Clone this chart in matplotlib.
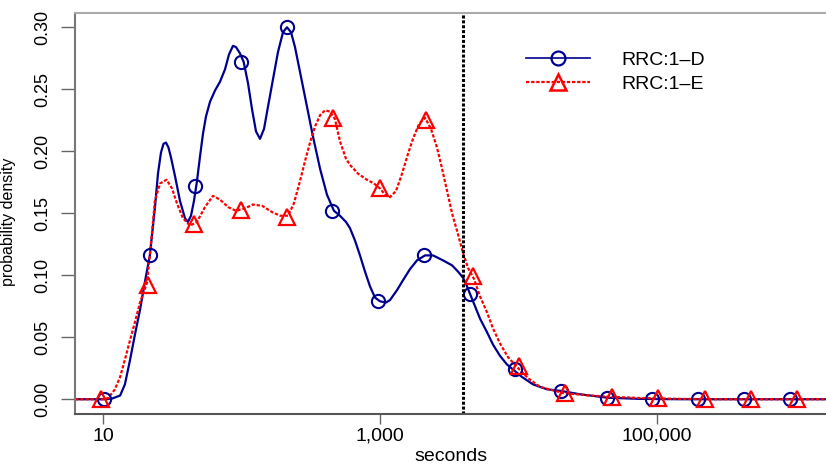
import matplotlib
matplotlib.use("Agg")
import matplotlib.pyplot as plt

plt.rcParams['font.family'] = ['Liberation Sans', 'DejaVu Sans']

# density curves (seconds, density)
blue_x = [6.3, 10, 11.6, 13.3, 14.4, 15.7, 17.0, 18.5, 20.1, 21.8, 23.74, 24.95, 26.23,
          27.35, 28.5, 29.71, 30.97, 33.11, 35.97, 39.09, 41.08, 43.19, 45.4, 47.72,
          50.2, 52.7, 55.4, 59.3, 64.4, 69.9, 76.0, 81.2, 86.8, 91.3, 97.5, 103.7,
          111.4, 119.1, 127.3, 136.0, 145.4, 155.4, 168.8, 183.4, 199.4, 213.0, 227.8,
          243.4, 264.5, 297, 328, 369, 414, 465, 514, 568, 607, 660, 717, 779, 847,
          920, 1000, 1105, 1181, 1327, 1466, 1648, 1850, 2113, 2414, 2851, 3311, 3656,
          3975, 4180, 4466, 4853, 5275, 5929, 6549, 7352, 8260, 9125, 10590, 12730,
          16070, 20280, 27800, 44260, 75300, 146600, 1.7e6]
blue_y = [0.0, 0.0, 0.0005, 0.003, 0.012, 0.032, 0.052, 0.072, 0.095, 0.116, 0.155,
          0.182, 0.199, 0.206, 0.207, 0.203, 0.195, 0.180, 0.160, 0.146, 0.143, 0.148,
          0.160, 0.176, 0.196, 0.214, 0.228, 0.240, 0.249, 0.256, 0.266, 0.278, 0.285,
          0.284, 0.279, 0.272, 0.255, 0.234, 0.216, 0.210, 0.218, 0.236, 0.258, 0.280,
          0.296, 0.300, 0.296, 0.284, 0.264, 0.236, 0.212, 0.186, 0.165, 0.152, 0.148,
          0.143, 0.138, 0.128, 0.116, 0.103, 0.091, 0.082, 0.079, 0.078, 0.080, 0.088,
          0.096, 0.105, 0.112, 0.116, 0.116, 0.112, 0.108, 0.103, 0.098, 0.093, 0.085,
          0.075, 0.065, 0.054, 0.044, 0.035, 0.028, 0.024, 0.018, 0.012, 0.008, 0.0067,
          0.004, 0.0012, 0.0003, 0.0, 0.0]

red_x = [6.3, 10, 10.9, 12.2, 13.3, 14.4, 15.7, 17.0, 18.5, 20.8, 22.4, 23.7, 25.8,
         28.8, 31.5, 34.2, 37.8, 42.5, 47.7, 54.5, 62.2, 70.0, 80.0, 91.2, 106, 121,
         141, 166, 190, 217, 239, 264.5, 287.4, 312.4, 339.5, 368.8, 400.7, 435.5,
         473, 514, 568, 607, 693, 805, 905, 1000, 1087, 1181, 1306, 1443, 1593, 1730,
         1913, 2113, 2336, 2580, 2806, 3049, 3311, 3597, 3975, 4318, 4772, 5275, 5929,
         6549, 7352, 8392, 9750, 11720, 14300, 20940, 32800, 45800, 75300, 146600,
         285000, 1.7e6]
red_y = [0.0, 0.0, 0.001, 0.008, 0.018, 0.032, 0.048, 0.062, 0.078, 0.094, 0.130,
         0.160, 0.174, 0.177, 0.170, 0.158, 0.146, 0.140, 0.143, 0.155, 0.164, 0.161,
         0.155, 0.152, 0.154, 0.157, 0.156, 0.151, 0.148, 0.148, 0.158, 0.176, 0.192,
         0.207, 0.220, 0.229, 0.233, 0.232, 0.226, 0.208, 0.194, 0.189, 0.182, 0.177,
         0.174, 0.170, 0.165, 0.163, 0.168, 0.182, 0.198, 0.210, 0.222, 0.227, 0.218,
         0.203, 0.186, 0.168, 0.150, 0.136, 0.118, 0.106, 0.097, 0.083, 0.070, 0.057,
         0.045, 0.034, 0.026, 0.017, 0.010, 0.005, 0.003, 0.002, 0.001, 0.0003, 0.0,
         0.0]

# marker points
blue_mx = [10.15, 21.7, 46.5, 99.4, 212, 454, 971, 2075, 4436, 9484, 20280, 43350,
           92700, 198000, 424000, 906000]
blue_my = [0.0, 0.116, 0.172, 0.272, 0.300, 0.152, 0.079, 0.116, 0.085, 0.024, 0.0067,
           0.001, 0.0, 0.0, 0.0, 0.0]
red_mx = [9.75, 21.1, 45.6, 98.6, 213, 461, 998, 2158, 4667, 10090, 21830, 47200,
          102000, 221000, 478000, 1033000]
red_my = [0.0, 0.092, 0.141, 0.153, 0.147, 0.227, 0.170, 0.225, 0.099, 0.027, 0.005,
          0.002, 0.001, 0.0, 0.0, 0.0]

cutoff = 4000
x_ticks = [10, 1000, 100000]
x_labels = ['10', '1,000', '100,000']
y_ticks = [0.00, 0.05, 0.10, 0.15, 0.20, 0.25, 0.30]
y_labels = ['0.00', '0.05', '0.10', '0.15', '0.20', '0.25', '0.30']

blue = '#000090'
red = '#ff0000'

fig = plt.figure(figsize=(8.26, 4.67), dpi=100)
ax = fig.add_axes([75 / 826, 1 - 414 / 467, 1 - 75 / 826, (414 - 13) / 467])

ax.plot(blue_x, blue_y, color=blue, lw=1.6)
ax.plot(red_x, red_y, color=red, lw=1.6, ls=(0, (1.5, 0.8)))
ax.plot(blue_mx, blue_my, ls='none', marker='o', ms=9.5, mfc='none', mec=blue, mew=1.5)
ax.plot(red_mx, red_my, ls='none', marker='^', ms=11, mfc='none', mec=red, mew=1.6)

ax.axvline(cutoff, color='black', lw=2.2, ls=(0, (1, 0.6)))

# legend entries
ax.plot([], [], color=blue, lw=1.2, marker='o', ms=10, mfc='none', mec=blue, mew=1.6,
        label='RRC:1\u2013D')
ax.plot([], [], color=red, lw=1.6, ls=(0, (1.5, 0.8)), marker='^', ms=12, mfc='none',
        mec=red, mew=1.8, label='RRC:1\u2013E')
handles, labels = ax.get_legend_handles_labels()
ax.legend(handles[-2:], labels[-2:], loc='upper left', frameon=False,
          bbox_to_anchor=(526 / 826, 1 - 51 / 467), bbox_transform=fig.transFigure,
          borderpad=0, borderaxespad=0, handlelength=3.3, handletextpad=1.6,
          labelspacing=0.35, fontsize=14)

ax.set_xscale('log')
ax.set_xlim(10 ** 0.798, 10 ** 6.22)
ax.set_ylim(-0.0119, 0.3115)
ax.set_xticks(x_ticks)
ax.set_xticklabels(x_labels, fontsize=14)
ax.xaxis.set_minor_locator(matplotlib.ticker.NullLocator())
ax.set_yticks(y_ticks)
ax.set_yticklabels(y_labels, fontsize=13, rotation=90, va='center')
ax.tick_params(axis='x', length=7, width=1, color='#666666', pad=3)
ax.tick_params(axis='y', length=10, width=1, color='#666666', pad=7)

ax.set_xlabel('seconds', fontsize=14, labelpad=2)
ax.set_ylabel('probability density', fontsize=11.5)
ax.yaxis.set_label_coords(-0.078, 0.48)

ax.spines['right'].set_visible(False)
ax.spines['left'].set_color('#777777')
ax.spines['bottom'].set_color('#555555')
ax.spines['top'].set_color('#aaaaaa')
for s in ['left', 'bottom', 'top']:
    ax.spines[s].set_linewidth(1.5)

fig.savefig('out.png', dpi=100)
